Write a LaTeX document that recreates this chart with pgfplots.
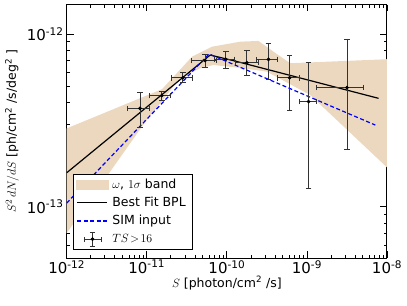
\documentclass[border=0pt]{standalone}
\usepackage{fontspec}
\setmainfont{DejaVu Sans}
\usepackage{pgfplots}
\pgfplotsset{compat=1.18}
\definecolor{bandc}{RGB}{236,216,190}
\newcommand{\tks}{\fontsize{15bp}{18bp}\selectfont}
\newcommand{\lbs}{\fontsize{12.5bp}{15bp}\selectfont}
\begin{document}
\begin{tikzpicture}
\begin{axis}[
  xmode=log, ymode=log,
  scale only axis, width=320.3bp, height=253.5bp,
  xmin=1e-12, xmax=1e-8, ymin=5.05e-14, ymax=1.48e-12,
  xtick={1e-12,1e-11,1e-10,1e-9,1e-8},
  xticklabels={10\textsuperscript{-12},10\textsuperscript{-11},10\textsuperscript{-10},10\textsuperscript{-9},10\textsuperscript{-8}},
  minor xtick={2e-12,3e-12,4e-12,5e-12,6e-12,7e-12,8e-12,9e-12,2e-11,3e-11,4e-11,5e-11,6e-11,7e-11,8e-11,9e-11,2e-10,3e-10,4e-10,5e-10,6e-10,7e-10,8e-10,9e-10,2e-9,3e-9,4e-9,5e-9,6e-9,7e-9,8e-9,9e-9},
  ytick={1e-13,1e-12},
  yticklabels={10\textsuperscript{-13},10\textsuperscript{-12}},
  minor ytick={6e-14,7e-14,8e-14,9e-14,2e-13,3e-13,4e-13,5e-13,6e-13,7e-13,8e-13,9e-13},
  tick align=inside, major tick length=7bp, minor tick length=3.5bp,
  every tick/.style={black, line width=0.8bp},
  axis line style={line width=1bp},
  ticklabel style={font=\tks},
  xticklabel style={inner sep=1bp, yshift=-1bp},
  yticklabel style={inner sep=1bp, xshift=-2bp},
  xlabel={$S$ [photon/cm\textsuperscript{2} /s]},
  ylabel={$S^2\,dN/dS$ [ph/cm\textsuperscript{2} /s/deg\textsuperscript{2} ]},
  label style={font=\lbs},
  xlabel style={at={(axis description cs:0.5,-0.0986)}, anchor=center},
  ylabel style={at={(axis description cs:-0.1708,0.5)}, anchor=center},
  legend style={at={(0.0187,0.0316)}, anchor=south west, draw=black, line width=0.8bp,
    font=\lbs, inner xsep=2.5bp, inner ysep=1.5bp, row sep=0bp,
    nodes={inner ysep=2.8bp, inner xsep=4bp, text height=9.5bp, text depth=3bp}},
  legend cell align=left,
]
% band
\addplot[fill=bandc, draw=none, forget plot] table {
x y
1e-12 2.84e-13
1.55e-11 4.79e-13
3.68e-11 7.39e-13
6.55e-11 8.44e-13
1.47e-10 9.02e-13
2.48e-10 9.11e-13
3.82e-10 7.90e-13
6.18e-10 6.77e-13
1e-8 7.14e-13
1e-8 1.69e-13
1.10e-9 4.43e-13
3.16e-10 6.05e-13
1.61e-10 6.33e-13
6.80e-11 6.61e-13
4.64e-11 6.33e-13
2.61e-11 5.56e-13
8.99e-12 2.97e-13
1e-12 7.04e-14
};
% best fit BPL
\addplot[black, line width=1.2bp, forget plot] table {
x y
1e-12 1.573e-13
6.19e-11 7.55e-13
1.25e-10 6.98e-13
7.85e-9 4.24e-13
};
% SIM input
\addplot[blue, line width=1.2bp, dash pattern=on 4bp off 2.5bp, forget plot] table {
x y
1e-12 1.05e-13
6.0e-11 7.66e-13
7.15e-9 2.97e-13
};
% data points
\addplot[forget plot, black!80, line width=0.8bp, only marks, mark=*, mark size=1.4bp,
  mark options={black, fill=black},
  error bars/.cd, x dir=both, x explicit, y dir=both, y explicit,
  error mark options={rotate=90, mark size=2.8bp, line width=0.8bp, black!80},
  error bar style={line width=0.8bp, black!80}]
 table[x=x, y=y, x error plus=xp, x error minus=xm, y error plus=yp, y error minus=ym] {
x y xp xm yp ym
8.24e-12 3.71e-13 2.46e-12 2.46e-12 0.91e-13 0.84e-13
1.54e-11 4.40e-13 0.41e-11 0.46e-11 0.27e-13 0.25e-13
2.82e-11 5.58e-13 0.90e-11 0.81e-11 0.39e-13 0.31e-13
5.36e-11 7.01e-13 2.14e-11 1.71e-11 0.61e-13 0.63e-13
9.72e-11 7.13e-13 2.73e-11 2.78e-11 0.76e-13 0.80e-13
1.78e-10 6.82e-13 0.70e-10 0.51e-10 1.18e-13 1.10e-13
3.31e-10 7.13e-13 0.99e-10 0.94e-10 1.70e-13 1.66e-13
6.07e-10 5.58e-13 2.00e-10 1.73e-10 1.90e-13 1.95e-13
1.05e-9 4.06e-13 0.26e-9 0.243e-9 2.80e-13 2.78e-13
3.16e-9 4.89e-13 1.94e-9 1.86e-9 4.41e-13 2.74e-13
};
\addlegendimage{legend image code/.code={\fill[bandc] (0bp,-4.5bp) rectangle (32bp,4.5bp);}}
\addlegendentry{$\omega$, $1\sigma$ band}
\addlegendimage{legend image code/.code={\draw[black, line width=1.2bp] (1.5bp,0bp) -- (31.5bp,0bp);}}
\addlegendentry{Best Fit BPL}
\addlegendimage{legend image code/.code={\draw[blue, line width=1.2bp, dash pattern=on 4bp off 2.5bp] (1.5bp,0bp) -- (31.5bp,0bp);}}
\addlegendentry{SIM input}
\addlegendimage{legend image code/.code={
  \draw[black!80, line width=0.8bp] (8bp,0bp) -- (25bp,0bp) (16.5bp,-7bp) -- (16.5bp,7bp)
    (8bp,-2.5bp) -- (8bp,2.5bp) (25bp,-2.5bp) -- (25bp,2.5bp)
    (14bp,-7bp) -- (19bp,-7bp) (14bp,7bp) -- (19bp,7bp);
  \fill[black] (16.5bp,0bp) circle (1.4bp);}}
\addlegendentry{$TS\!>\!16$}
\coordinate (sw) at (rel axis cs:0,0);
\coordinate (ne) at (rel axis cs:1,1);
\end{axis}
\pgfresetboundingbox
\path[use as bounding box] ([xshift=-66.7bp,yshift=-47bp]sw) rectangle ([xshift=20bp,yshift=4.5bp]ne);
\end{tikzpicture}
\end{document}
